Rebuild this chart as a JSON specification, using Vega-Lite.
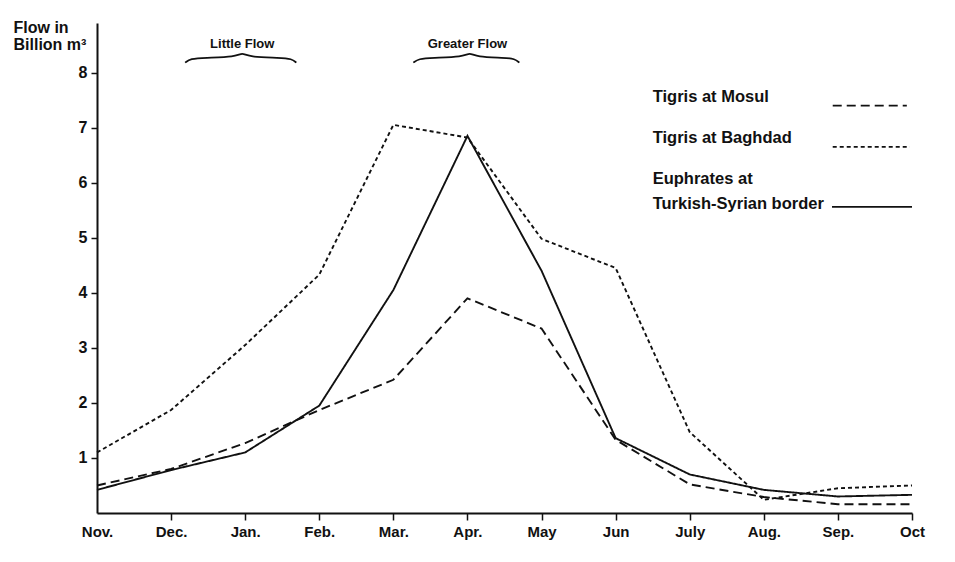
{
  "$schema": "https://vega.github.io/schema/vega-lite/v6.json",
  "width": 815,
  "height": 490,
  "autosize": "none",
  "padding": {"left": 97, "top": 23, "right": 43, "bottom": 49},
  "background": "white",
  "config": {"view": {"stroke": null}, "font": "Liberation Sans"},
  "datasets": {
    "flow": [
      {"x": 0, "series": "Tigris at Mosul", "y": 0.5},
      {"x": 1, "series": "Tigris at Mosul", "y": 0.8},
      {"x": 2, "series": "Tigris at Mosul", "y": 1.27},
      {"x": 3, "series": "Tigris at Mosul", "y": 1.87},
      {"x": 4, "series": "Tigris at Mosul", "y": 2.42},
      {"x": 5, "series": "Tigris at Mosul", "y": 3.9},
      {"x": 6, "series": "Tigris at Mosul", "y": 3.35},
      {"x": 7, "series": "Tigris at Mosul", "y": 1.33},
      {"x": 8, "series": "Tigris at Mosul", "y": 0.52},
      {"x": 9, "series": "Tigris at Mosul", "y": 0.29},
      {"x": 10, "series": "Tigris at Mosul", "y": 0.16},
      {"x": 11, "series": "Tigris at Mosul", "y": 0.16},
      {"x": 0, "series": "Tigris at Baghdad", "y": 1.1},
      {"x": 1, "series": "Tigris at Baghdad", "y": 1.87},
      {"x": 2, "series": "Tigris at Baghdad", "y": 3.05},
      {"x": 3, "series": "Tigris at Baghdad", "y": 4.33},
      {"x": 4, "series": "Tigris at Baghdad", "y": 7.05},
      {"x": 5, "series": "Tigris at Baghdad", "y": 6.82},
      {"x": 6, "series": "Tigris at Baghdad", "y": 4.98},
      {"x": 7, "series": "Tigris at Baghdad", "y": 4.45},
      {"x": 8, "series": "Tigris at Baghdad", "y": 1.47},
      {"x": 9, "series": "Tigris at Baghdad", "y": 0.24},
      {"x": 10, "series": "Tigris at Baghdad", "y": 0.45},
      {"x": 11, "series": "Tigris at Baghdad", "y": 0.5},
      {"x": 0, "series": "Euphrates at Turkish-Syrian border", "y": 0.42},
      {"x": 1, "series": "Euphrates at Turkish-Syrian border", "y": 0.78},
      {"x": 2, "series": "Euphrates at Turkish-Syrian border", "y": 1.1},
      {"x": 3, "series": "Euphrates at Turkish-Syrian border", "y": 1.95},
      {"x": 4, "series": "Euphrates at Turkish-Syrian border", "y": 4.05},
      {"x": 5, "series": "Euphrates at Turkish-Syrian border", "y": 6.85},
      {"x": 6, "series": "Euphrates at Turkish-Syrian border", "y": 4.4},
      {"x": 7, "series": "Euphrates at Turkish-Syrian border", "y": 1.36},
      {"x": 8, "series": "Euphrates at Turkish-Syrian border", "y": 0.7},
      {"x": 9, "series": "Euphrates at Turkish-Syrian border", "y": 0.42},
      {"x": 10, "series": "Euphrates at Turkish-Syrian border", "y": 0.3},
      {"x": 11, "series": "Euphrates at Turkish-Syrian border", "y": 0.33}
    ],
    "legendText": [
      {"x": 7.5, "y": 7.55, "label": "Tigris at Mosul"},
      {"x": 7.5, "y": 6.82, "label": "Tigris at Baghdad"},
      {"x": 7.5, "y": 6.07, "label": "Euphrates at"},
      {"x": 7.5, "y": 5.62, "label": "Turkish-Syrian border"}
    ],
    "legendLines": [
      {"x": 9.93, "x2": 10.93, "y": 7.4, "series": "Tigris at Mosul"},
      {"x": 9.93, "x2": 10.97, "y": 6.65, "series": "Tigris at Baghdad"},
      {"x": 9.92, "x2": 11.0, "y": 5.56, "series": "Euphrates at Turkish-Syrian border"}
    ],
    "braces": [
      {"b": "little", "o": 0, "x": 1.19, "y": 8.18},
      {"b": "little", "o": 1, "x": 1.26, "y": 8.25},
      {"b": "little", "o": 2, "x": 1.45, "y": 8.27},
      {"b": "little", "o": 3, "x": 1.87, "y": 8.28},
      {"b": "little", "o": 4, "x": 1.96, "y": 8.37},
      {"b": "little", "o": 5, "x": 2.05, "y": 8.28},
      {"b": "little", "o": 6, "x": 2.47, "y": 8.27},
      {"b": "little", "o": 7, "x": 2.63, "y": 8.25},
      {"b": "little", "o": 8, "x": 2.69, "y": 8.18},
      {"b": "greater", "o": 0, "x": 4.27, "y": 8.18},
      {"b": "greater", "o": 1, "x": 4.34, "y": 8.25},
      {"b": "greater", "o": 2, "x": 4.52, "y": 8.27},
      {"b": "greater", "o": 3, "x": 4.94, "y": 8.28},
      {"b": "greater", "o": 4, "x": 5.03, "y": 8.37},
      {"b": "greater", "o": 5, "x": 5.12, "y": 8.28},
      {"b": "greater", "o": 6, "x": 5.5, "y": 8.27},
      {"b": "greater", "o": 7, "x": 5.64, "y": 8.25},
      {"b": "greater", "o": 8, "x": 5.7, "y": 8.18}
    ],
    "braceLabels": [
      {"x": 1.96, "y": 8.51, "label": "Little Flow"},
      {"x": 5.0, "y": 8.51, "label": "Greater Flow"}
    ]
  },
  "encoding": {
    "x": {
      "field": "x",
      "type": "quantitative",
      "scale": {"domain": [0, 11], "nice": false, "zero": false},
      "axis": {
        "title": null,
        "values": [0, 1, 2, 3, 4, 5, 6, 7, 8, 9, 10, 11],
        "labelExpr": "['Nov.','Dec.','Jan.','Feb.','Mar.','Apr.','May','Jun','July','Aug.','Sep.','Oct'][datum.value]",
        "grid": false,
        "domainColor": "#111",
        "domainWidth": 2,
        "tickColor": {"condition": {"test": "datum.value == 0", "value": "transparent"}, "value": "#111"},
        "tickWidth": 1.5,
        "tickSize": 7,
        "labelColor": "#111",
        "labelFont": "Liberation Sans",
        "labelFontWeight": "bold",
        "labelFontSize": 15,
        "labelPadding": 4,
        "labelFlush": false,
        "labelOverlap": false
      }
    },
    "y": {
      "field": "y",
      "type": "quantitative",
      "scale": {"domain": [0, 8.9], "nice": false},
      "axis": {
        "title": ["Flow in", "Billion m³"],
        "titleAngle": 0,
        "titleAlign": "left",
        "titleBaseline": "alphabetic",
        "titleX": -84,
        "titleY": 9,
        "titleFont": "Liberation Sans",
        "titleFontSize": 16,
        "titleFontWeight": "bold",
        "titleLineHeight": 17,
        "titleColor": "#111",
        "values": [1, 2, 3, 4, 5, 6, 7, 8],
        "grid": false,
        "domainColor": "#111",
        "domainWidth": 2,
        "tickColor": "#111",
        "tickWidth": 1.5,
        "tickSize": 6,
        "labelColor": "#111",
        "labelFontWeight": "bold",
        "labelFontSize": 16,
        "labelPadding": 4
      }
    }
  },
  "layer": [
    {
      "data": {"name": "flow"},
      "mark": {"type": "line", "color": "#111", "strokeWidth": 1.9},
      "encoding": {
        "strokeDash": {
          "field": "series",
          "type": "nominal",
          "scale": {
            "domain": ["Tigris at Mosul", "Tigris at Baghdad", "Euphrates at Turkish-Syrian border"],
            "range": [[9, 5], [4, 3], [1, 0]]
          },
          "legend": null
        }
      }
    },
    {
      "data": {"name": "legendLines"},
      "mark": {"type": "rule", "color": "#111", "strokeWidth": 1.9},
      "encoding": {
        "x2": {"field": "x2"},
        "strokeDash": {"field": "series", "type": "nominal", "legend": null}
      }
    },
    {
      "data": {"name": "legendText"},
      "mark": {"type": "text", "align": "left", "baseline": "middle", "fontSize": 16.5, "fontWeight": "bold", "color": "#111"},
      "encoding": {"text": {"field": "label"}}
    },
    {
      "data": {"name": "braces"},
      "mark": {"type": "line", "color": "#111", "strokeWidth": 1.8, "interpolate": "basis"},
      "encoding": {
        "detail": {"field": "b"},
        "order": {"field": "o"}
      }
    },
    {
      "data": {"name": "braceLabels"},
      "mark": {"type": "text", "align": "center", "baseline": "middle", "fontSize": 13, "fontWeight": "bold", "color": "#111"},
      "encoding": {"text": {"field": "label"}}
    }
  ]
}
